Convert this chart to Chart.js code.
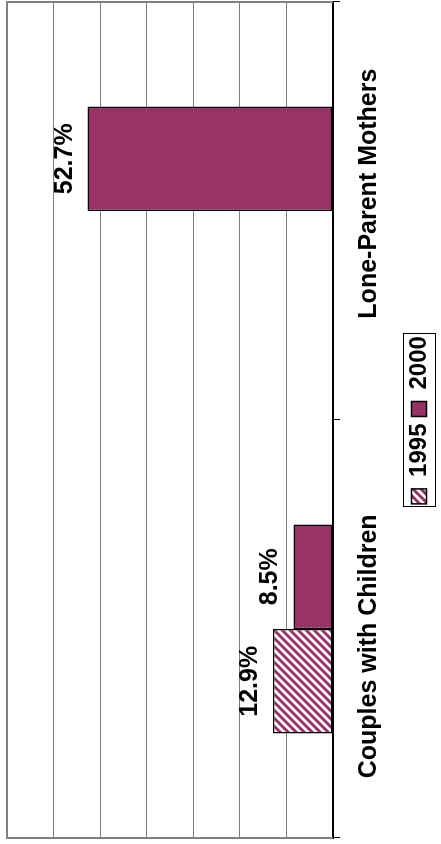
<!DOCTYPE html>
<html>
<head>
<meta charset="utf-8">
<script src="https://cdn.jsdelivr.net/npm/chart.js@4"></script>
<style>
  html, body { margin: 0; padding: 0; background: #fff; overflow: hidden; }
  /* The chart is laid out landscape and turned a quarter turn to stand upright. */
  #frame {
    position: absolute; left: 0; top: 0;
    width: 844px; height: 441px;
    transform-origin: 0 0;
    transform: rotate(-90deg) translateX(-100%);
  }
</style>
</head>
<body>
<div id="frame"><canvas id="c" width="844" height="441"></canvas></div>
<script>
// Data
const categories = ['Couples with Children', 'Lone-Parent Mothers'];
const seriesNames = ['1995', '2000'];
const values1995 = [12.9, null];
const values2000 = [8.5, 52.7];
const valueTicks = [0, 10, 20, 30, 40, 50, 60, 70];

const FONT = '"Liberation Sans", Arial, Helvetica, sans-serif';
const PLUM = '#993366';

const canvas = document.getElementById('c');
const ctx = canvas.getContext('2d');

// Diagonal plum hatching on white for the 1995 series
function makeHatch() {
  const s = 8;
  const tile = document.createElement('canvas');
  tile.width = s; tile.height = s;
  const g = tile.getContext('2d');
  g.fillStyle = '#ffffff';
  g.fillRect(0, 0, s, s);
  g.strokeStyle = PLUM;
  g.lineWidth = 3;
  g.beginPath();
  g.moveTo(-2, s + 2); g.lineTo(s + 2, -2);
  g.moveTo(-2, 2); g.lineTo(2, -2);
  g.moveTo(s - 2, s + 2); g.lineTo(s + 2, s - 2);
  g.stroke();
  return ctx.createPattern(tile, 'repeat');
}
const hatch = makeHatch();

// Category labels sit a little outward from the middle of the axis
const LABEL_SPREAD = '     ';
function spreadLabel(text, index, count) {
  return index < count / 2 ? text + LABEL_SPREAD : LABEL_SPREAD + text;
}

// Grey frame on the three sides of the plot not taken by the category axis
const plotFrame = {
  id: 'plotFrame',
  beforeDatasetsDraw(chart) {
    const { left, right, top, bottom } = chart.chartArea;
    const c = chart.ctx;
    c.save();
    c.strokeStyle = '#808080';
    c.lineWidth = 2;
    c.beginPath();
    c.moveTo(left, bottom); c.lineTo(left, top);
    c.lineTo(right, top); c.lineTo(right, bottom);
    c.stroke();
    c.restore();
  }
};

// Percentage printed just beyond the end of each bar
const valueLabels = {
  id: 'valueLabels',
  afterDatasetsDraw(chart) {
    const c = chart.ctx;
    c.save();
    c.fillStyle = '#000';
    c.font = 'bold 25px ' + FONT;
    c.textAlign = 'center';
    c.textBaseline = 'alphabetic';
    chart.data.datasets.forEach((ds, i) => {
      chart.getDatasetMeta(i).data.forEach((bar, j) => {
        const v = ds.data[j];
        if (v == null) return;
        c.fillText(v.toFixed(1) + '%', bar.x, bar.y - 16);
      });
    });
    c.restore();
  }
};

// Thin box round the legend entries
const legendBox = {
  id: 'legendBox',
  afterDraw(chart) {
    const boxes = chart.legend && chart.legend.legendHitBoxes;
    if (!boxes || !boxes.length) return;
    const l = Math.min(...boxes.map(b => b.left)) - 3;
    const r = Math.max(...boxes.map(b => b.left + b.width)) + 2;
    const t = Math.min(...boxes.map(b => b.top)) - 4;
    const b = Math.max(...boxes.map(b => b.top + b.height)) + 4;
    const c = chart.ctx;
    c.save();
    c.strokeStyle = '#000';
    c.lineWidth = 1;
    c.strokeRect(Math.round(l) + 0.5, Math.round(t) + 0.5, Math.round(r - l), Math.round(b - t));
    c.restore();
  }
};

const PLOT_BOTTOM = 333;

new Chart(ctx, {
  type: 'bar',
  data: {
    labels: categories,
    datasets: [
      {
        label: seriesNames[0],
        data: values1995,
        backgroundColor: hatch,
        borderColor: '#000',
        borderWidth: 1.5,
        borderSkipped: false,
        categoryPercentage: 0.5,
        barPercentage: 1.0
      },
      {
        label: seriesNames[1],
        data: values2000,
        backgroundColor: PLUM,
        borderColor: '#000',
        borderWidth: 1.5,
        borderSkipped: false,
        categoryPercentage: 0.5,
        barPercentage: 1.0
      }
    ]
  },
  options: {
    responsive: false,
    animation: false,
    devicePixelRatio: 1,
    layout: { padding: { left: 6, right: 2, top: 7, bottom: 0 } },
    scales: {
      x: {
        grid: { drawOnChartArea: false, color: '#000', lineWidth: 1, tickLength: 7, offset: true },
        border: { display: true, color: '#000', width: 2 },
        ticks: {
          color: '#000',
          padding: 14,
          maxRotation: 0,
          autoSkip: false,
          font: { family: FONT, size: 25, weight: 'bold' },
          callback(value, index, ticks) {
            return spreadLabel(this.getLabelForValue(value), index, ticks.length);
          }
        },
        afterFit(scale) {
          const lg = scale.chart.legend;
          const lh = lg ? lg.height : 0;
          scale.height = scale.chart.height - PLOT_BOTTOM - lh;
        }
      },
      y: {
        min: 0,
        max: 70,
        afterBuildTicks(scale) { scale.ticks = valueTicks.map(v => ({ value: v })); },
        ticks: { display: false },
        grid: { color: '#808080', lineWidth: 1, drawTicks: false },
        border: { display: false }
      }
    },
    plugins: {
      legend: {
        position: 'bottom',
        align: 'center',
        labels: {
          color: '#000',
          boxWidth: 15,
          boxHeight: 15,
          padding: 7,
          font: { family: FONT, size: 24, weight: 'bold' }
        }
      },
      tooltip: { enabled: false }
    }
  },
  plugins: [plotFrame, valueLabels, legendBox]
});
</script>
</body>
</html>
